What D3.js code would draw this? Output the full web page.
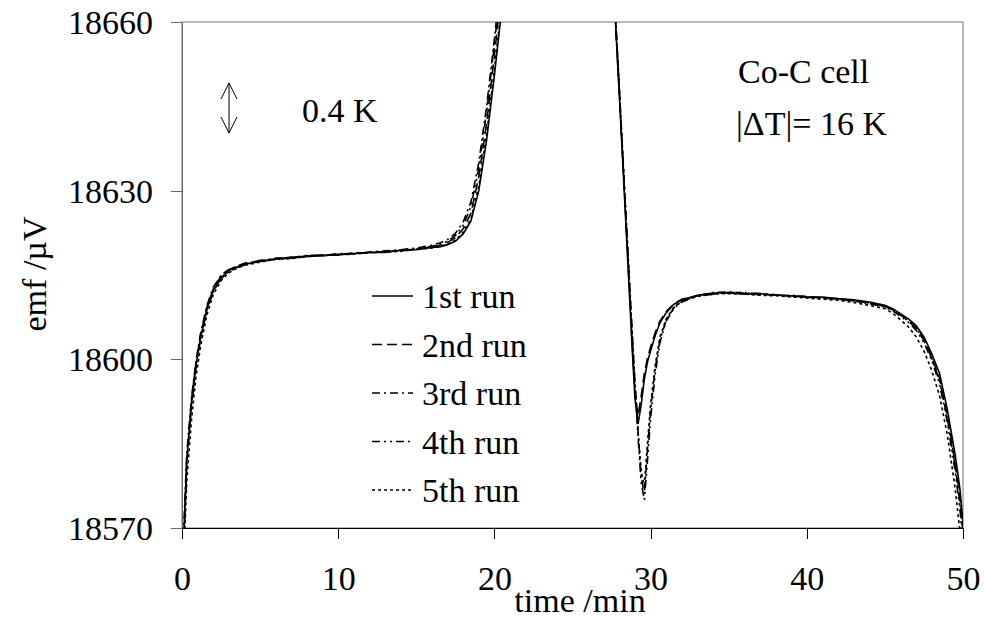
<!DOCTYPE html>
<html>
<head>
<meta charset="utf-8">
<script src="https://cdn.jsdelivr.net/npm/d3@7"></script>
<style>
  body { margin: 0; background: #fff; }
  svg text { font-family: "Liberation Serif", "Times New Roman", "DejaVu Serif", serif; fill: #000; }
</style>
</head>
<body>
<svg id="chart" width="985" height="619"></svg>
<script>
// time grid shared by all runs (min)
var time = [0, 0.3, 0.6, 0.9, 1.2, 1.6, 2.0, 2.5, 3.0, 3.5, 4.0,
    5, 6, 7, 8, 9, 10, 11, 12, 13, 14, 15, 16, 16.5, 17, 17.5,
    18, 18.5, 19, 19.5, 20, 20.5, 21,
    27.2, 27.6, 28.0, 28.4, 28.8, 29.0, 29.2, 29.4, 29.6, 29.8, 30.0, 30.3, 30.6, 31.0, 31.5, 32,
    33, 34, 35, 36, 37, 38, 39, 40, 41, 42, 43, 44, 45,
    45.5, 46, 46.5, 47, 47.5, 48, 48.5, 49, 49.5, 49.8, 50.2];

// emf /µV
var run1 = [18560, 18582, 18592, 18599, 18604, 18609, 18612.2, 18614.5, 18615.8, 18616.4, 18616.9,
    18617.4, 18617.9, 18618.0, 18618.4, 18618.4, 18618.7, 18618.8, 18619.0, 18619.0, 18619.4, 18619.5, 18619.9, 18620.0, 18620.4, 18621.0,
    18622.3, 18624.6, 18630.0, 18639.0, 18650.5, 18663, 18690,
    18690, 18668, 18647, 18625, 18603, 18593, 18588.5, 18592, 18596.5, 18599.5, 18601.5, 18604.3, 18606.5, 18608.3, 18609.8, 18610.6,
    18611.4, 18611.8, 18611.8, 18611.6, 18611.7, 18611.4, 18611.3, 18611.1, 18611.1, 18610.8, 18610.6, 18610.2, 18609.6,
    18609.0, 18608.1, 18607.2, 18606.0, 18604.0, 18601.0, 18597.5, 18591.0, 18583.0, 18577, 18565];

var run2 = [18558, 18581, 18592.5, 18599.5, 18604.5, 18609.3, 18612.5, 18614.8, 18615.9, 18616.6, 18617.0,
    18617.6, 18617.8, 18618.2, 18618.3, 18618.6, 18618.6, 18618.9, 18618.9, 18619.2, 18619.3, 18619.6, 18620.0, 18620.3, 18620.8, 18621.6,
    18623.2, 18626.0, 18632.5, 18642.0, 18654.0, 18667, 18690,
    18690, 18669, 18648, 18626, 18604, 18594, 18590, 18593.5, 18597.5, 18600.2, 18602.2, 18604.8, 18606.8, 18608.5, 18609.9, 18610.7,
    18611.3, 18611.6, 18611.9, 18611.7, 18611.5, 18611.5, 18611.2, 18611.2, 18610.9, 18610.7, 18610.4, 18610.0, 18609.4,
    18608.8, 18607.9, 18606.9, 18605.6, 18603.5, 18600.4, 18596.6, 18590.0, 18581.5, 18575.5, 18563];

var run3 = [18562, 18583, 18593, 18599.8, 18604.8, 18609.6, 18612.8, 18615.0, 18616.0, 18616.5, 18617.1,
    18617.5, 18618.0, 18618.1, 18618.5, 18618.5, 18618.8, 18618.8, 18619.1, 18619.3, 18619.5, 18619.8, 18620.3, 18620.7, 18621.3, 18622.4,
    18624.4, 18628.0, 18635.0, 18645.0, 18657.0, 18670, 18690,
    18690, 18669, 18648, 18627, 18606, 18596, 18587, 18579, 18576, 18584, 18591, 18598.5, 18603.5, 18607.0, 18609.2, 18610.3,
    18611.3, 18611.9, 18612.0, 18611.8, 18611.7, 18611.5, 18611.3, 18611.0, 18611.0, 18610.7, 18610.5, 18610.0, 18609.4,
    18608.8, 18607.9, 18606.8, 18605.5, 18603.4, 18600.2, 18596.2, 18589.5, 18581.0, 18574.5, 18562];

var run4 = [18559, 18581.5, 18591.5, 18598.8, 18603.8, 18608.8, 18612.0, 18614.3, 18615.6, 18616.3, 18616.8,
    18617.5, 18617.7, 18618.1, 18618.2, 18618.6, 18618.5, 18618.9, 18619.0, 18619.1, 18619.4, 18619.6, 18620.1, 18620.5, 18621.0, 18622.0,
    18623.8, 18627.2, 18634.0, 18644.0, 18656.0, 18669, 18690,
    18690, 18668, 18647, 18626, 18605, 18595, 18586, 18578, 18575, 18582, 18589.5, 18597.5, 18603.0, 18606.8, 18609.1, 18610.2,
    18611.2, 18611.7, 18611.9, 18611.9, 18611.6, 18611.4, 18611.4, 18611.1, 18610.9, 18610.8, 18610.4, 18609.9, 18609.3,
    18608.6, 18607.7, 18606.6, 18605.2, 18603.0, 18599.8, 18595.6, 18588.8, 18580.0, 18573.5, 18561];

var run5 = [18557, 18578, 18589, 18597, 18602.5, 18608, 18611.5, 18614.0, 18615.4, 18616.2, 18616.7,
    18617.3, 18617.8, 18617.9, 18618.3, 18618.5, 18618.6, 18618.7, 18619.0, 18619.1, 18619.2, 18619.6, 18619.8, 18620.1, 18620.5, 18621.2,
    18622.6, 18625.0, 18630.8, 18640.0, 18651.5, 18664, 18690,
    18690, 18668.5, 18647.5, 18626.5, 18605.5, 18595.5, 18587, 18580, 18577.5, 18585, 18592, 18599, 18604, 18607.2, 18609.3, 18610.4,
    18611.2, 18611.6, 18611.7, 18611.6, 18611.4, 18611.3, 18611.1, 18610.9, 18610.7, 18610.5, 18610.1, 18609.6, 18609.0,
    18608.2, 18607.0, 18605.8, 18604.0, 18601.5, 18598.0, 18593.5, 18586.5, 18577.0, 18569.5, 18558];

var runNames = ['1st run', '2nd run', '3rd run', '4th run', '5th run'];
var runDashes = ['none', '10,5', '8,4,2,4', '8,4,2,4,2,4', '3,3'];
var xTicks = [0, 10, 20, 30, 40, 50];
var yTicks = [18570, 18600, 18630, 18660];

var svg = d3.select('#chart');
var plotLeft = 182, plotRight = 963, plotTop = 22, plotBottom = 528;
var fontSize = 34;
var serif = '"Liberation Serif", "Times New Roman", "DejaVu Serif", serif';

var x = d3.scaleLinear().domain([0, 50]).range([plotLeft, plotRight]);
var y = d3.scaleLinear().domain([18570, 18660]).range([plotBottom, plotTop]);

// frame (top and right sides are grey)
svg.append('rect')
    .attr('x', plotLeft).attr('y', plotTop)
    .attr('width', plotRight - plotLeft).attr('height', plotBottom - plotTop)
    .attr('fill', 'none').attr('stroke', '#8c8c8c').attr('stroke-width', 1.2);

svg.append('clipPath').attr('id', 'plot-clip')
  .append('rect')
    .attr('x', plotLeft).attr('y', plotTop)
    .attr('width', plotRight - plotLeft).attr('height', plotBottom - plotTop);

var runs = [run1, run2, run3, run4, run5].map(function(vals, i) {
    return { name: runNames[i], dash: runDashes[i],
             points: vals.map(function(v, j) { return [time[j], v]; }) };
});

var line = d3.line()
    .x(d => x(d[0]))
    .y(d => y(d[1]));

svg.append('g').attr('clip-path', 'url(#plot-clip)')
  .selectAll('path').data(runs.slice().reverse())
  .enter().append('path')
    .attr('d', d => line(d.points))
    .attr('fill', 'none')
    .attr('stroke', '#000')
    .attr('stroke-width', 1.6)
    .attr('stroke-dasharray', d => d.dash);

// axes
var yAxis = svg.append('g')
    .attr('transform', 'translate(' + plotLeft + ',0)')
    .call(d3.axisLeft(y).tickValues(yTicks).tickFormat(d3.format('d'))
        .tickSize(11).tickSizeOuter(0).tickPadding(18));
yAxis.select('.domain').attr('stroke', '#666').attr('stroke-width', 1.5);
yAxis.selectAll('.tick line').attr('stroke', '#666');
yAxis.selectAll('text').attr('font-size', fontSize).attr('dy', '0.34em')
    .style('font-family', serif);

var xAxis = svg.append('g')
    .attr('transform', 'translate(0,' + plotBottom + ')')
    .call(d3.axisBottom(x).tickValues(xTicks).tickFormat(d3.format('d'))
        .tickSize(11).tickSizeOuter(0).tickPadding(27));
xAxis.select('.domain').attr('stroke', '#000').attr('stroke-width', 1.2);
xAxis.selectAll('.tick line').attr('stroke', '#000');
xAxis.selectAll('text').attr('font-size', fontSize)
    .style('font-family', serif);
svg.selectAll('.domain, .tick line').attr('shape-rendering', 'crispEdges');

// axis titles
svg.append('text')
    .attr('transform', 'translate(46,274) rotate(-90)')
    .attr('text-anchor', 'middle')
    .attr('font-size', fontSize)
    .text('emf /\u00b5V');

svg.append('text')
    .attr('x', 580).attr('y', 612)
    .attr('text-anchor', 'middle')
    .attr('font-size', fontSize)
    .text('time /min');

// legend
var legend = svg.append('g').selectAll('g').data(runs)
  .enter().append('g')
    .attr('transform', (d, i) => 'translate(372,' + (296 + i * 48.5) + ')');
legend.append('line')
    .attr('x1', 0).attr('x2', 41)
    .attr('stroke', '#000').attr('stroke-width', 1.5)
    .attr('stroke-dasharray', d => d.dash);
legend.append('text')
    .attr('x', 50).attr('y', 12)
    .attr('font-size', fontSize)
    .text(d => d.name);

// 0.4 K scale arrow
var ax = 229, ay1 = 83, ay2 = 133;
svg.append('path')
    .attr('d', 'M' + ax + ',' + ay1 + 'V' + ay2 +
        'M' + (ax - 8) + ',' + (ay1 + 16) + 'L' + ax + ',' + ay1 + 'L' + (ax + 8) + ',' + (ay1 + 16) +
        'M' + (ax - 8) + ',' + (ay2 - 16) + 'L' + ax + ',' + ay2 + 'L' + (ax + 8) + ',' + (ay2 - 16))
    .attr('fill', 'none').attr('stroke', '#000').attr('stroke-width', 1);
svg.append('text')
    .attr('x', 302).attr('y', 122)
    .attr('font-size', fontSize)
    .text('0.4 K');

svg.append('text')
    .attr('x', 738).attr('y', 83)
    .attr('font-size', fontSize)
    .text('Co-C cell');
svg.append('text')
    .attr('x', 736).attr('y', 135)
    .attr('font-size', fontSize)
    .text('|\u0394T|= 16 K');
</script>
</body>
</html>
